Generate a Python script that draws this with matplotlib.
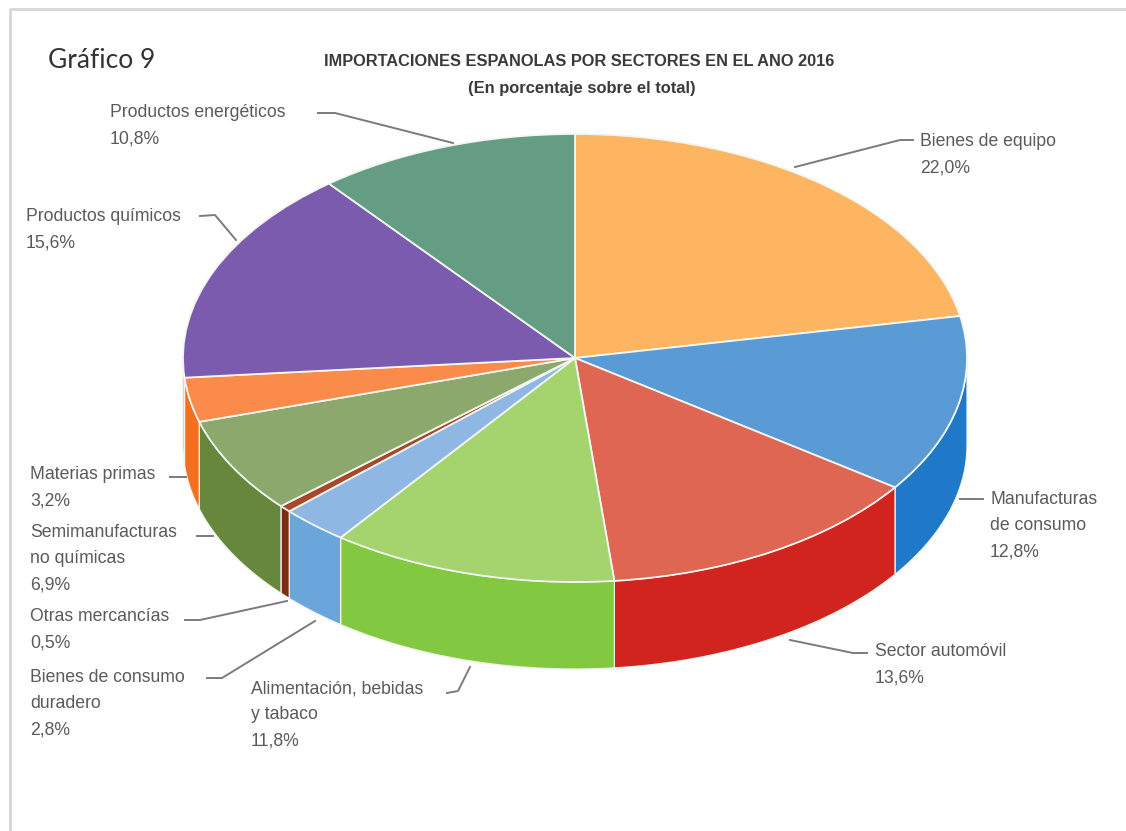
import numpy as np
import matplotlib
matplotlib.use('Agg')
import matplotlib.pyplot as plt
from matplotlib.transforms import Affine2D

W, H = 1126, 831

sectors = ['Bienes de equipo', 'Manufacturas\nde consumo', 'Sector automóvil',
           'Alimentación, bebidas\ny tabaco', 'Bienes de consumo\nduradero',
           'Otras mercancías', 'Semimanufacturas\nno químicas', 'Materias primas',
           'Productos químicos', 'Productos energéticos']
shares = [22.0, 12.8, 13.6, 11.8, 2.8, 0.5, 6.9, 3.2, 15.6, 10.8]

top_colors = ['#FDB562', '#5B9BD5', '#DE6652', '#A5D46F', '#8FB7E3',
              '#A8482A', '#8CA86C', '#FB8B4B', '#7B5BAD', '#659C84']
side_colors = ['#E09A45', '#1F78C8', '#D2241E', '#82C840', '#6AA5DC',
               '#7F2A12', '#67873D', '#F4701E', '#F4701E', '#4C8069']

label_x = [920, 990, 875, 251, 30, 30, 30, 30, 26, 110]
label_y = [141, 499, 651, 688, 677, 616, 532, 474, 216, 112]

leaders = [[(795, 167), (900, 140), (913, 140)],
           [(960, 499), (983, 499)],
           [(790, 640), (853, 653), (867, 653)],
           [(447, 693), (458, 691), (470, 667)],
           [(207, 678), (222, 678), (315, 621)],
           [(185, 620), (200, 620), (287, 601)],
           [(197, 536), (213, 536)],
           [(170, 477), (186, 477)],
           [(200, 216), (215, 215), (236, 240)],
           [(318, 113), (335, 113), (453, 143)]]

# pie geometry in pixels
cx, cy = 575, 358
rx, ry = 392, 224
depth = 87

label_font = ['Liberation Sans', 'DejaVu Sans']
title_font = ['Liberation Sans Narrow', 'Liberation Sans', 'DejaVu Sans']


def py(y):
    # pixel rows count from the top, the axes from the bottom
    return H - y


fig = plt.figure(figsize=(W / 100, H / 100), dpi=100)
ax = fig.add_axes([0, 0, 1, 1])

wedges, _ = ax.pie(shares, colors=top_colors, startangle=90, counterclock=False,
                   wedgeprops={'edgecolor': '#F2F6F2', 'linewidth': 1.3})
ax.set_aspect('auto')
ax.set_xlim(0, W)
ax.set_ylim(0, H)
ax.axis('off')

squash = Affine2D().scale(rx, ry).translate(cx, py(cy)) + ax.transData
for w in wedges:
    w.set_transform(squash)
    w.set_zorder(3)

# side wall, only the front half of the rim can be seen
for w, col in zip(wedges, side_colors):
    a0, a1 = w.theta1, w.theta2
    if a0 > 0:
        a0 -= 360
        a1 -= 360
    a0, a1 = max(a0, -180), min(a1, 0)
    if a1 <= a0:
        continue
    t = np.radians(np.linspace(a0, a1, 80))
    xs = cx + rx * np.cos(t)
    ys = py(cy) + ry * np.sin(t)
    ax.fill(np.r_[xs, xs[::-1]], np.r_[ys, ys[::-1] - depth], facecolor=col,
            edgecolor='#EEF3EA', linewidth=0.9, zorder=2)

for pts in leaders:
    xs, ys = zip(*pts)
    ax.plot(xs, [py(v) for v in ys], color='#7B7B7B', lw=1.4, zorder=4)

for name, val, x, y in zip(sectors, shares, label_x, label_y):
    txt = name + '\n' + ('%.1f%%' % val).replace('.', ',')
    ax.text(x, py(y - 8), txt, family=label_font, fontsize=12.7, color='#5A5A5A',
            ha='left', va='top', linespacing=1.72)

ax.text(48, py(60), 'Gráfico 9', family=['Lato', 'DejaVu Sans'], fontsize=19,
        color='#333333', ha='left', va='center')
ax.text(579, py(61), 'IMPORTACIONES ESPANOLAS POR SECTORES EN EL ANO 2016',
        family=title_font, fontsize=11.8, fontweight='bold', color='#3A3A3A',
        ha='center', va='center')
ax.text(582, py(88), '(En porcentaje sobre el total)', family=title_font,
        fontsize=11.9, fontweight='bold', color='#3A3A3A', ha='center', va='center')

# outer frame, top and left only
ax.plot([10, 10, W], [0, py(9), py(9)], color='#D6D6D6', lw=2, zorder=1)

fig.savefig('out.png', dpi=100)
